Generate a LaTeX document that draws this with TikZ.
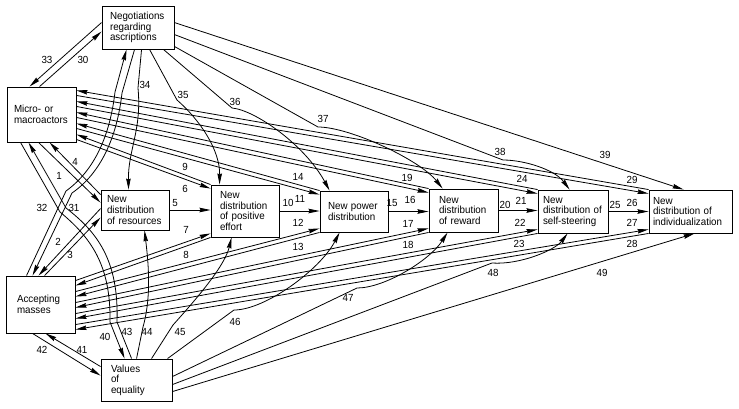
\documentclass[tikz,border=0pt]{standalone}
\usepackage{fontspec}
\setmainfont{Liberation Sans}[FakeStretch=0.95]
\usetikzlibrary{calc,arrows.meta}
\hyphenpenalty=10000

\tikzset{
  box/.style={draw, line width=0.9pt, align=left, inner sep=0pt,
    font=\fontsize{10.3}{10.6}\selectfont},
  arr/.style={line width=0.8pt, -{Stealth[length=11pt,width=4.5pt,inset=1pt]}},
  num/.style={inner sep=0pt, font=\fontsize{10.3}{10}\selectfont}
}

\begin{document}
\begin{tikzpicture}[x=1pt, y=-1pt]
	\useasboundingbox (0,0) rectangle (739,408);

	% the boxes
	\node[box, minimum width=72pt, minimum height=43pt, text width=56pt] (neg) at (138,27.5) {Negotiations\\regarding\\ascriptions};
	\node[box, minimum width=69pt, minimum height=55pt, text width=55pt] (mic) at (41.5,114.5) {Micro- or\\macroactors};
	\node[box, minimum width=69pt, minimum height=57pt, text width=47pt] (acc) at (40.5,304.5) {Accepting\\masses};
	\node[box, minimum width=71pt, minimum height=42pt, text width=51pt] (val) at (136.5,380) {Values\\of\\equality};
	\node[box, minimum width=68pt, minimum height=40pt, text width=56pt] (res) at (135,210) {New\\distribution\\of resources};
	\node[box, minimum width=68pt, minimum height=52pt, text width=50pt] (eff) at (245,211) {New\\distribution\\of positive\\effort};
	\node[box, minimum width=68pt, minimum height=41pt, text width=52pt] (pow) at (354,211.5) {New power\\distribution};
	\node[box, minimum width=69pt, minimum height=43pt, text width=49pt] (rew) at (463.5,210.5) {New\\distribution\\of reward};
	\node[box, minimum width=70pt, minimum height=43pt, text width=60pt] (ste) at (573,211.5) {New\\distribution of\\self-steering};
	\node[box, minimum width=83pt, minimum height=43pt, text width=75pt] (ind) at (690.5,211.5) {New\\distribution of\\individualization};

	% negotiations <-> actors
	\draw[arr] ($(mic.north west)+(33,0)$) -- ($(neg.north west)+(0,26)$);
	\draw[arr] ($(neg.north west)+(0,17)$) -- ($(mic.north west)+(23,0)$);

	% negotiations <-> masses
	\draw[arr] ($(acc.north west)+(21,0)$) -- (66,191) .. controls (95,170) and (110,135) .. (115,92) -- ($(neg.south west)+(25,0)$);
	\draw[arr] ($(neg.south west)+(33,0)$) -- (122,93) .. controls (117,137) and (101,173) .. (72,193) -- ($(acc.north west)+(27,0)$);

	% actors <-> values
	\draw[arr] ($(mic.south west)+(14,0)$) -- (60,212) .. controls (90,237) and (111,264) .. (110,322) -- ($(val.north west)+(24,0)$);
	\draw[arr] ($(val.north west)+(31,0)$) -- (117,322) .. controls (119,260) and (97,232) .. (66,208) -- ($(mic.south west)+(22,0)$);

	% masses <-> values
	\draw[arr] ($(acc.south west)+(27,0)$) -- ($(val.north west)+(0,17)$);
	\draw[arr] ($(val.north west)+(0,8)$) -- ($(acc.south west)+(40,0)$);

	% resources
	\draw[arr] ($(mic.south west)+(32,0)$) -- ($(res.north west)+(0,13)$);
	\draw[arr] ($(res.north west)+(0,5)$) -- ($(mic.south west)+(43,0)$);
	\draw[arr] ($(res.north west)+(0,19)$) -- ($(acc.north west)+(33,0)$);
	\draw[arr] ($(acc.north west)+(39,0)$) -- ($(res.north west)+(0,28)$);

	% the chain
	\foreach \a/\b in {res/eff, eff/pow, pow/rew, rew/ste, ste/ind}
		\draw[arr] (\a.east) -- (\a.east -| \b.west);

	% fans to actors and masses
	\foreach \b/\k in {eff/0, pow/1, rew/2, ste/3, ind/4} {
		\draw[arr] ($(mic.south east)+(0,-3-11*\k)$) -- ($(\b.north west)+(0,4)$);
		\draw[arr] (\b.north west) -- ($(mic.south east)+(0,-8-11*\k)$);
		\draw[arr] ($(acc.north east)+(0,5+11*\k)$) -- ($(\b.south west)+(0,-4)$);
		\draw[arr] (\b.south west) -- ($(acc.north east)+(0,10+11*\k)$);
	}

	% from negotiations
	\draw[arr] ($(neg.south west)+(40,0)$) -- (138,88) .. controls (142,130) and (128,150) .. ($(res.north west)+(28,0)$);
	\draw[arr] ($(neg.south west)+(48,0)$) -- (177,100) .. controls (200,120) and (220,150) .. ($(eff.north west)+(9,0)$);
	\draw[arr] ($(neg.south east)+(-11,0)$) -- (232,108) .. controls (255,110) and (305,145) .. ($(pow.north west)+(10,0)$);
	\draw[arr] ($(neg.south east)+(0,-3)$) -- (318,127) .. controls (350,127) and (420,160) .. ($(rew.north west)+(14,0)$);
	\draw[arr] ($(neg.north east)+(0,29)$) -- (503,160) .. controls (525,160) and (555,170) .. ($(ste.north west)+(32,0)$);
	\draw[arr] ($(neg.north east)+(0,17)$) -- ($(ind.north west)+(35,0)$);

	% from values
	\draw[arr] ($(val.north west)+(36,0)$) -- (143,327) .. controls (152,295) and (148,260) .. ($(res.south west)+(44,0)$);
	\draw[arr] ($(val.north west)+(51,0)$) -- (173,325) .. controls (200,295) and (225,265) .. ($(eff.south west)+(21,0)$);
	\draw[arr] ($(val.north west)+(67,0)$) -- (234,310) .. controls (265,310) and (320,270) .. ($(pow.south west)+(20,0)$);
	\draw[arr] ($(val.north east)+(0,18)$) -- (357,288) .. controls (385,288) and (430,260) .. ($(rew.south west)+(19,0)$);
	\draw[arr] ($(val.north east)+(0,26)$) -- (492,263) .. controls (520,265) and (555,250) .. ($(ste.south west)+(30,0)$);
	\draw[arr] ($(val.north east)+(0,33)$) -- ($(ind.south west)+(46,0)$);

	% numbers
	\foreach \n/\x/\y in {1/59/176, 2/58/242, 3/70/255, 4/75/162, 5/175/203,
			6/185/189, 7/186/230, 8/186/255, 9/185/167, 10/288/203, 11/300/199,
			12/298/223, 13/298/247, 14/298/177, 15/392/203, 16/410/200, 17/408/224,
			18/408/245, 19/407/178, 20/505/205, 21/521/201, 22/520/223, 23/519/244,
			24/522/179, 25/615/205, 26/632/203, 27/632/223, 28/632/244, 29/632/180,
			30/83/60, 31/74/208, 32/42/208, 33/47/60, 34/145/85, 35/183/95,
			36/235/102, 37/323/119, 38/500/152, 39/605/155, 40/105/337, 41/82/350,
			42/42/350, 43/127/332, 44/147/332, 45/180/332, 46/235/322, 47/348/298,
			48/493/273, 49/602/273}
		\node[num] (l\n) at (\x,\y) {\n};
\end{tikzpicture}
\end{document}
